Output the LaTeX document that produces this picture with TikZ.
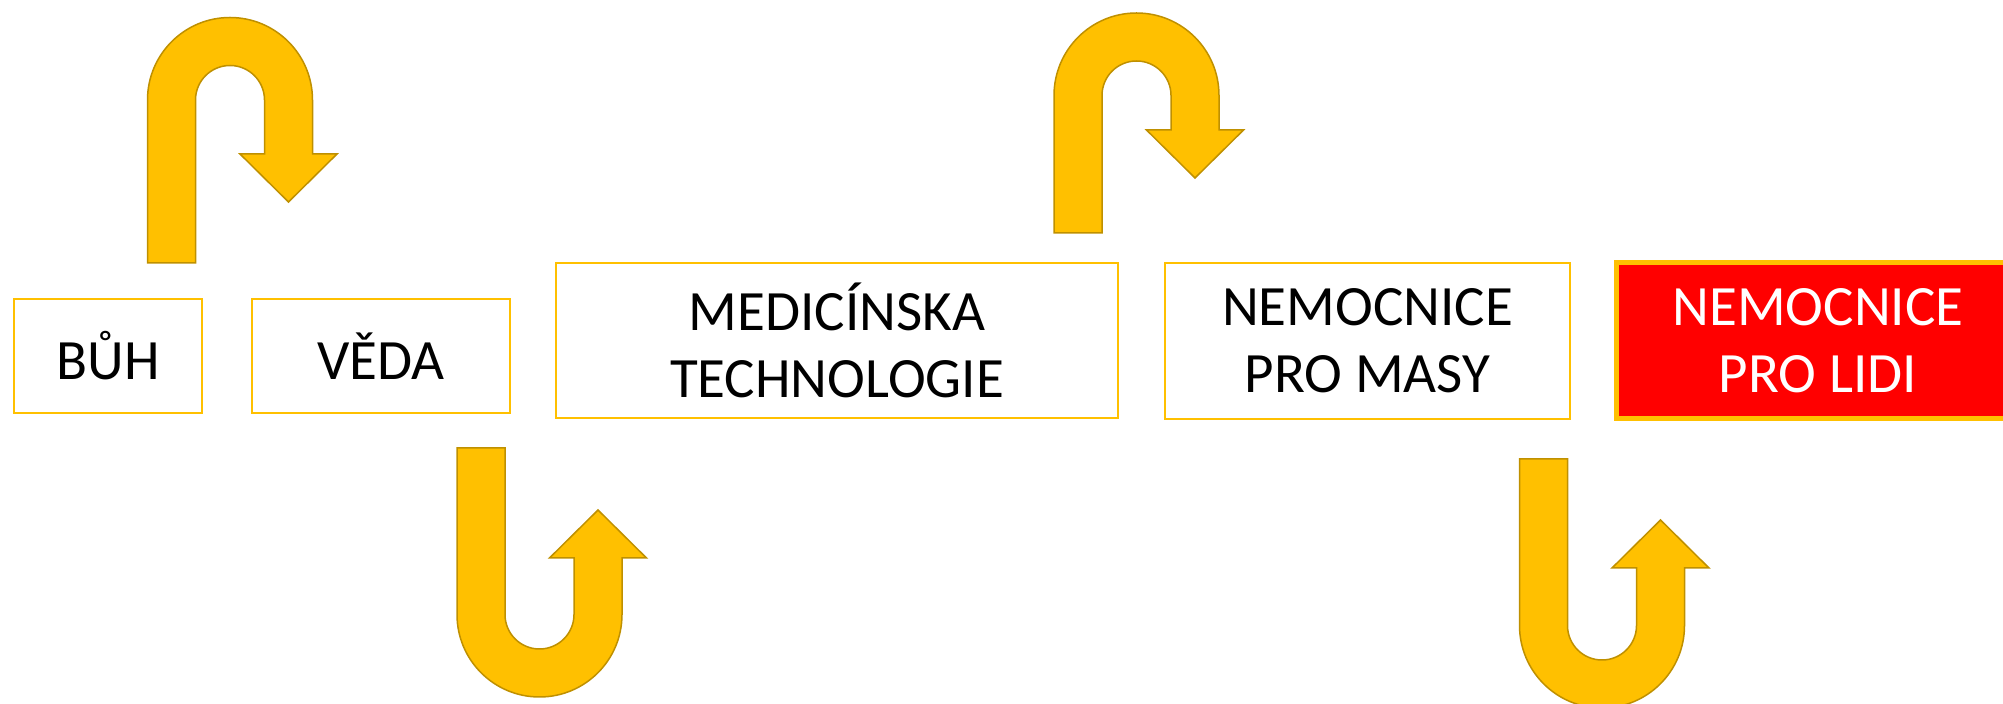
\documentclass[tikz,border=0pt]{standalone}
\usepackage{fontspec}
\setmainfont{Carlito}
\usepackage{tikz}

\definecolor{gold}{RGB}{255,192,0}
\definecolor{darkgold}{RGB}{191,144,0}

\tikzset{
  stagebox/.style={draw=gold, line width=1pt, fill=white, align=center, inner sep=0pt,
    font=\fontsize{28.5}{33.5}\selectfont},
  finalbox/.style={stagebox, fill=red, text=white, line width=2.5pt},
  pics/uturn/.style 2 args={code={
    \draw [draw=darkgold, fill=gold, line width=0.75pt] (-82.5,#1) -- (-82.5,0)
      arc [start angle=180, end angle=360, radius=82.5] -- (82.5,#2) -- (107,#2)
      -- (58.5,{#2+48}) -- (10,#2) -- (34.5,#2) -- (34.5,0)
      arc [start angle=0, end angle=-180, radius=34.5] -- (-34.5,#1) -- cycle ;
  }}
}

\begin{document}
\begin{tikzpicture}[x=0.5pt,y=0.5pt,yscale=-1,xscale=1]
        \useasboundingbox (0,0) rectangle (2003,704);

        %Shape: U-turn arrows
        \pic [yscale=-1] at (230,100) {uturn={163}{54}};
        \pic [yscale=-1] at (1136.5,95.5) {uturn={137.5}{34.5}};
        \pic at (539.5,614.5) {uturn={166.5}{56.5}};
        \pic at (1602,625.5) {uturn={166.5}{57.5}};

        % Text Node
        \node [stagebox, minimum width=94pt, minimum height=57pt] (buh) at (108,356) {BŮH};
        % Text Node
        \node [stagebox, minimum width=129pt, minimum height=57pt] (veda) at (381,356) {VĚDA};
        % Text Node
        \node [stagebox, minimum width=281pt, minimum height=77.5pt] (medtech) at (837,340.5) {MEDICÍNSKA\\TECHNOLOGIE};
        % Text Node
        \node [stagebox, minimum width=202.5pt, minimum height=78pt] (masy) at (1367.5,341) {NEMOCNICE\\PRO MASY};
        % Text Node
        \node [finalbox, minimum width=202pt, minimum height=78pt] (lidi) at (1818,341) {NEMOCNICE\\PRO LIDI};

\end{tikzpicture}
\end{document}
